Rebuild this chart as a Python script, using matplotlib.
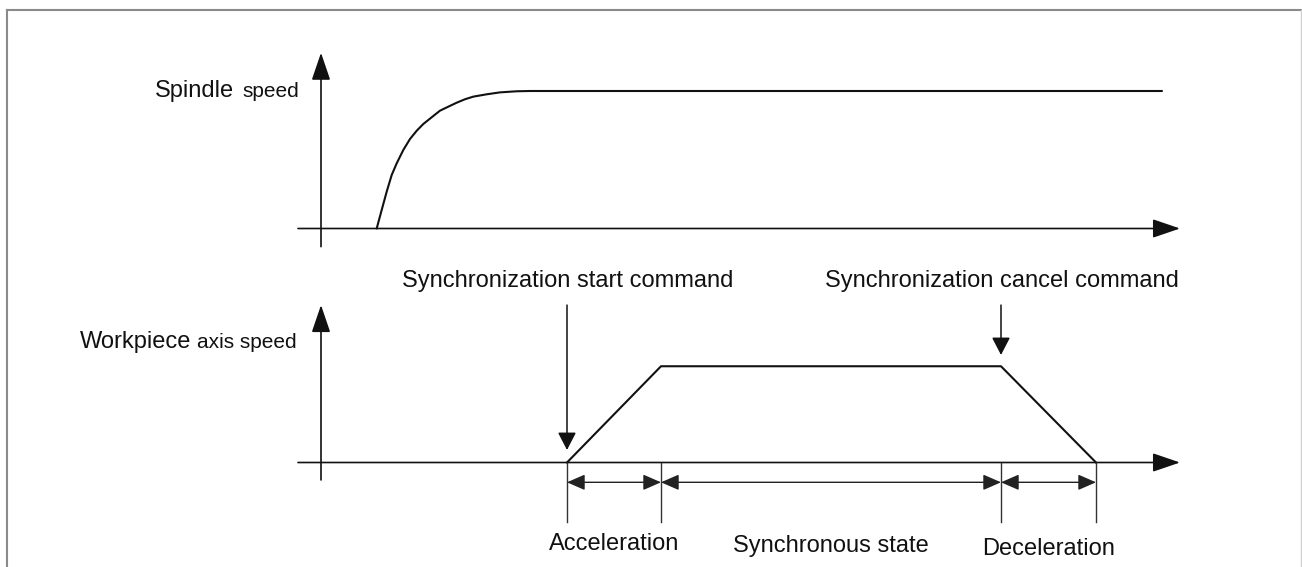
import matplotlib
matplotlib.use('Agg')
import matplotlib.pyplot as plt
from matplotlib.patches import FancyArrowPatch
from matplotlib.lines import Line2D

plt.rcParams['font.family'] = ['Liberation Sans', 'DejaVu Sans']

# spindle speed curve (time, normalised speed)
spindle_t = [5.57, 6.07, 6.57, 7.07, 7.57, 8.23, 8.9, 9.57, 10.23, 11.07, 11.9,
             12.73, 13.57, 14.4, 15.23, 16.57, 17.9, 19.57, 20.9, 84.1]
spindle_v = [0.0, 0.135, 0.268, 0.389, 0.474, 0.571, 0.651, 0.711, 0.76, 0.809, 0.857,
             0.886, 0.915, 0.94, 0.959, 0.976, 0.99, 0.998, 1.0, 1.0]

# workpiece axis speed (trapezoid)
workpiece_t = [24.6, 34.0, 68.0, 77.5]
workpiece_v = [0.0, 0.7, 0.7, 0.0]

phase_names = ['Acceleration', 'Synchronous state', 'Deceleration']
command_names = ['Synchronization start command', 'Synchronization cancel command']
command_t = [24.6, 68.0]

W, H, DPI = 1302, 567, 100
fig = plt.figure(figsize=(W / DPI, H / DPI), dpi=DPI)
fig.patch.set_facecolor('white')

BIG = 17
SMALL = 15
INK = '#111111'


def arrow(ax, p0, p1, lw=1.2, hl=17, hw=5.8, style='-|>', color='#111111'):
    a = FancyArrowPatch(p0, p1, arrowstyle='%s,head_length=%g,head_width=%g' % (style, hl, hw),
                        mutation_scale=1, shrinkA=0, shrinkB=0, lw=lw,
                        color=color, clip_on=False)
    ax.add_patch(a)


def make_axes(top_px, bottom_px, origin_px):
    ax = fig.add_axes([298 / W, (H - bottom_px) / H, 884 / W, (bottom_px - top_px) / H])
    ax.set_xlim(-2.3, 86.1)
    ax.set_ylim((origin_px - bottom_px) / 137.5, (origin_px - top_px) / 137.5)
    ax.axis('off')
    return ax


# top panel: spindle speed
ax1 = make_axes(50, 248, 228.5)
arrow(ax1, (-2.3, 0), (85.9, 0))
arrow(ax1, (0, -0.132), (0, 1.278))
ax1.plot(spindle_t, spindle_v, color=INK, lw=1.5, clip_on=False,
         solid_joinstyle='round', solid_capstyle='round')
ax1.text(-16.6, 0.958, 'Spindle', fontsize=BIG, color=INK, va='baseline', ha='left')
ax1.text(-7.9, 0.958, 'speed', fontsize=SMALL, color=INK, va='baseline', ha='left')

# bottom panel: workpiece axis speed
ax2 = make_axes(290, 560, 462.5)
arrow(ax2, (-2.3, 0), (85.9, 0))
arrow(ax2, (0, -0.127), (0, 1.145))
ax2.plot(workpiece_t, workpiece_v, color=INK, lw=1.5, clip_on=False)
ax2.text(-24.1, 0.835, 'Workpiece', fontsize=BIG, color=INK, va='baseline', ha='left')
ax2.text(-12.4, 0.835, 'axis speed', fontsize=SMALL, color=INK, va='baseline', ha='left')

# command arrows and labels
tips = [workpiece_v[0] + 0.091, workpiece_v[2] + 0.082]
for name, t, tip in zip(command_names, command_t, tips):
    arrow(ax2, (t, 1.145), (t, tip), lw=1.1, hl=10.8, hw=5.6)
    ax2.text(t + 0.1, 1.2785, name, fontsize=BIG, color=INK, ha='center', va='baseline')

# dimension lines
for t in workpiece_t:
    ax2.plot([t, t], [0, -0.435], color='#333333', lw=1.0, clip_on=False)
label_y = [-0.637, -0.65, -0.673]
for i, name in enumerate(phase_names):
    t0, t1 = workpiece_t[i], workpiece_t[i + 1]
    arrow(ax2, (t0, -0.144), (t1, -0.144), lw=1.0, hl=11, hw=4.8, style='<|-|>', color='#222222')
    ax2.text((t0 + t1) / 2, label_y[i], name, fontsize=BIG, color=INK, ha='center', va='baseline')

# frame around the figure
fig.add_artist(Line2D([7 / W, 7 / W], [0, 1 - 10 / H], transform=fig.transFigure, color='#8a8a8a', lw=1.5))
fig.add_artist(Line2D([7 / W, 1300.5 / W], [1 - 10 / H, 1 - 10 / H], transform=fig.transFigure, color='#8a8a8a', lw=1.5))
fig.add_artist(Line2D([1300.5 / W, 1300.5 / W], [0, 1 - 10 / H], transform=fig.transFigure, color='#d0d0d0', lw=1.0))

fig.savefig('out.png', dpi=DPI)
